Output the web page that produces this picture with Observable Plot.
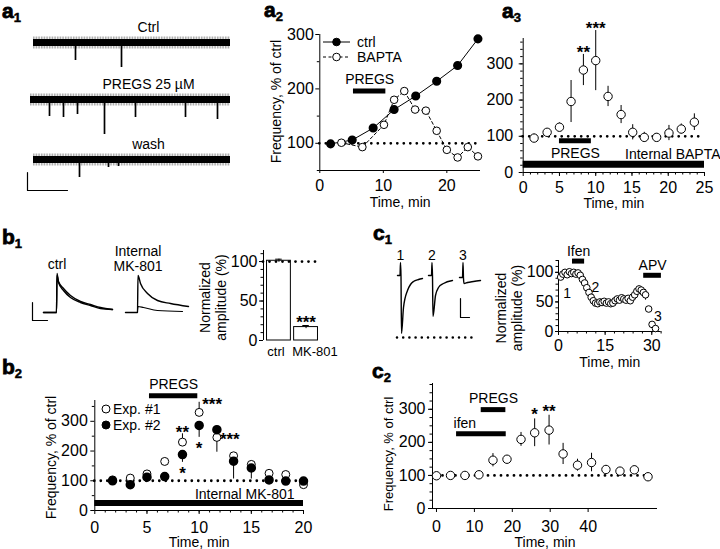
<!DOCTYPE html>
<html><head><meta charset="utf-8">
<script src="https://cdn.jsdelivr.net/npm/d3@7"></script>
<script src="https://cdn.jsdelivr.net/npm/@observablehq/plot@0.6"></script>
<style>
html,body{margin:0;padding:0;background:#fff;}
#fig{position:relative;width:720px;height:549px;overflow:hidden;background:#fff;font-family:"Liberation Sans",Arial,Helvetica,sans-serif;}
</style></head><body><div id="fig"></div>
<script>
// ================= DATA =================
// a1: example traces (spike times and amplitudes, arbitrary units)
const a1Labels = ["Ctrl", "PREGS 25 µM", "wash"];
const a1Start = [3, 0, 3];
const a1End = [200, 200, 200];
const a1SpikeTimes = [[45, 91], [19, 33, 47, 74, 105, 155, 187], [49, 78, 88]];
const a1SpikeAmps = [[-18, -25], [-17, -18, -15, -35, -18, -18, -20], [-18, -8, -7]];
const a1ScaleX = [-3, -3, 37];
const a1ScaleY = [-13, -31, -31];

// a2
const a2CtrlTime = [1.7, 5.1, 8.4, 11.7, 15.1, 18.4, 21.7, 24.9];
const a2CtrlFreq = [99, 106, 128, 162, 187, 214, 243, 292];
const a2BaptaTime = [3.4, 6.7, 10.1, 11.7, 13.3, 15.0, 16.7, 18.4, 20.0, 21.7, 23.3, 24.9];
const a2BaptaFreq = [101, 93, 134, 180, 196, 162, 160, 123, 88, 74, 93, 76];
const a2Bars = [{label: "PREGS", start: 5.3, end: 10.4, level: 196}];

// a3
const a3Time = [1.5, 3.3, 5.0, 6.6, 8.3, 10.0, 11.7, 13.5, 15.1, 16.7, 18.4, 20.1, 21.8, 23.6];
const a3Freq = [95, 111, 125, 196, 283, 309, 210, 160, 111, 97, 97, 109, 120, 139];
const a3Err = [11, 10, 12, 58, 43, 83, 28, 25, 21, 14, 10, 21, 14, 23];
const a3Stars = [{i: 4, label: "**"}, {i: 5, label: "***"}];
const a3Pregs = [{label: "PREGS", start: 5.0, end: 9.4, level: 88}];
const a3Internal = [{label: "Internal BAPTA", start: 0, end: 25, level: 23}];

// b1 traces
const b1CtrlT = [11, 24, 24.5, 26, 31, 38, 48, 58, 68, 80];
const b1CtrlA = [0, 0, 39, 30, 22, 15, 10, 7, 4, 3];
const b1CtrlB = [0, 0, 37, 31, 24, 17, 11, 8, 5, 3];
const b1MkT1 = [93, 105, 105.5, 108, 115, 125, 138, 156];
const b1MkA1 = [0, 0, 37, 29, 19, 12, 9, 6];
const b1MkT2 = [105, 105.5, 111, 125, 150];
const b1MkA2 = [0, 6, 5, 2, 1];
const b1ScaleX = [0, 0, 15];
const b1ScaleY = [10, -8, -8];
// b1 bars
const b1Groups = ["ctrl", "MK-801"];
const b1Amp = [101, 17];
const b1Err = [2, 2];

// b2
const b2Time = [1.7, 3.4, 5.0, 6.7, 8.4, 10.0, 11.7, 13.3, 15.0, 16.7, 18.3, 20.0];
const b2Exp1 = [103, 109, 123, 165, 230, 330, 246, 184, 155, 125, 121, 87];
const b2Exp2 = [100, 87, 112, 114, 188, 286, 272, 166, 143, 103, 99, 99];
const b2Exp1ErrEnd = [null, null, null, null, 258, 364, 196, null, null, null, null, null];
const b2Exp2ErrEnd = [null, null, null, null, 162, 246, null, 106, 106, null, null, null];
const b2Stars = [
  {t: 8.4, v: 258, label: "**", place: "above"},
  {t: 8.4, v: 162, label: "*", place: "below"},
  {t: 10.0, v: 364, label: "***", place: "right"},
  {t: 10.0, v: 246, label: "*", place: "below"},
  {t: 11.7, v: 246, label: "***", place: "right"}
];
const b2Pregs = [{label: "PREGS", start: 5.24, end: 9.87, level: 386}];
const b2Internal = [{label: "Internal MK-801", start: 0, end: 20, level: 25}];

// c1 traces
const c1T1 = [0, 2.5, 3, 3.5, 4, 6, 10, 13, 16, 21, 25];
const c1A1 = [0, 0, 13, -1, -58, -32, -15, -9, -6, -4, -3];
const c1T2 = [31, 34, 34.5, 35, 35.5, 38, 41, 46, 55];
const c1A2 = [0, 0, 13, -1, -41, -20, -12, -8, -5];
const c1T3 = [62, 65, 65.5, 66, 66.5, 70, 76, 83];
const c1A3 = [-2, -2, 13, -3, -8, -7, -6, -5];
const c1TraceLabels = [{label: "1", t: 3}, {label: "2", t: 34.5}, {label: "3", t: 65.5}];
const c1RefLevel = [{level: -62, start: 0, end: 76}];
const c1ScaleX = [63, 63, 72];
const c1ScaleY = [-23, -42, -42];
// c1 time course
const c1Time = [0.7, 1.4, 2.1, 2.8, 3.5, 4.2, 4.9, 5.6, 6.3, 7.0, 7.7, 8.4, 9.1, 9.8, 10.5, 11.2, 11.9, 12.6, 13.3, 14.0, 14.7, 15.4, 16.1, 16.8, 17.5, 18.2, 18.9, 19.6, 20.3, 21.0, 21.7, 22.4, 23.1, 23.8, 24.5, 25.2, 25.9, 26.6, 27.3, 28.0, 29.0, 30.1, 31.2];
const c1Amp = [92, 97, 100, 96, 101, 98, 100, 97, 99, 95, 88, 82, 74, 66, 58, 52, 48, 47, 50, 49, 51, 48, 50, 47, 48, 52, 55, 53, 57, 55, 53, 56, 52, 58, 62, 68, 72, 70, 66, 62, 38, 12, 5];
const c1ErrBars = [{t: 28.0, lo: 53, hi: 71}];
const c1Bars = [{label: "Ifen", start: 4.5, end: 8.4, level: 119}, {label: "APV", start: 27.4, end: 33.1, level: 95}];
const c1Points = [{label: "1", t: 2.8, v: 64}, {label: "2", t: 11.9, v: 75}, {label: "3", t: 32.0, v: 25}];

// c2
const c2Time = [0, 3.7, 7.5, 11.2, 14.9, 18.6, 22.3, 25.9, 29.7, 33.4, 37.2, 40.9, 44.7, 48.4, 52.2, 55.8];
const c2Freq = [99, 100, 100, 102, 146, 149, 209, 229, 237, 165, 131, 139, 118, 113, 117, 96];
const c2Err = [0, 0, 0, 0, 20, 0, 21, 42, 45, 32, 18, 28, 12, 10, 12, 0];
const c2Stars = [{i: 7, label: "*"}, {i: 8, label: "**"}];
const c2Pregs = [{label: "PREGS", start: 11.8, end: 18.3, level: 299}];
const c2Ifen = [{label: "ifen", start: 5.3, end: 18.4, level: 226}];

// ================= DRAWING =================
const FONT = '"Liberation Sans", Arial, Helvetica, sans-serif';
const W = 720, H = 549;
const fig = document.getElementById("fig");
function place(x0, x1, y0, y1) {
  return {width: W, height: H, marginLeft: x0, marginRight: W - x1, marginTop: y0, marginBottom: H - y1};
}
function draw(opts) {
  const el = Plot.plot({...opts, style: {position: "absolute", left: "0px", top: "0px", background: "transparent", overflow: "visible", fontFamily: FONT, maxWidth: "none"}});
  fig.appendChild(el);
}
const DOTTED = {stroke: "black", strokeWidth: 2.8, strokeDasharray: "0,6.5", strokeLinecap: "round"};
const pts = (xs, ys) => xs.map((x, i) => ({x, y: ys[i]}));
function yTitleMark(title, dx, dy, fs = 14) {
  return Plot.text([title], {text: d => d, frameAnchor: "left", textAnchor: "middle", lineAnchor: "middle", rotate: -90, dx, dy, fontSize: fs, lineHeight: 1.15});
}
function axes(o) {
  const fs = o.fs ?? 16;
  const m = [];
  m.push(Plot.axisX({ticks: o.xTicks, tickSize: o.xTickSize ?? 4, tickPadding: o.xPad ?? 5, fontSize: fs, label: null}));
  if (o.xMinor) m.push(Plot.axisX({ticks: o.xMinor, tickSize: 2.5, tickFormat: () => "", label: null}));
  m.push(Plot.axisY({ticks: o.yTicks, tickSize: o.yTickSize ?? 4, tickPadding: o.yPad ?? 2, fontSize: fs, label: null}));
  if (o.yMinor) m.push(Plot.axisY({ticks: o.yMinor, tickSize: 2.5, tickFormat: () => "", label: null}));
  if (o.xTitle) m.push(Plot.text([o.xTitle], {text: d => d, frameAnchor: "bottom", textAnchor: "middle", lineAnchor: "middle", dy: o.xTitleDy, fontSize: 14}));
  if (o.yTitle) m.push(yTitleMark(o.yTitle, o.yTitleDx, o.yTitleDy ?? 0, o.yTitleFs ?? 14));
  return m;
}
const range = (a, b, s) => d3.range(a, b + 1e-9, s);
const STAR = {fontSize: 17, fontWeight: "bold", lineAnchor: "middle"};

// ---- a1 traces
const a1Baselines = [42, 99, 159];
a1Labels.forEach((lab, i) => {
  const b = a1Baselines[i];
  const spikes = a1SpikeTimes[i].map((t, j) => ({t, a: a1SpikeAmps[i][j]}));
  const seg = [{s: a1Start[i], e: a1End[i]}];
  const marks = [
    Plot.ruleY(seg, {y: 0, x1: "s", x2: "e", strokeWidth: 12, strokeOpacity: 0.45, strokeDasharray: "0.7,0.9"}),
    Plot.ruleY(seg, {y: 0, x1: "s", x2: "e", strokeWidth: 7}),
    Plot.ruleX(spikes, {x: "t", y1: 0, y2: "a", strokeWidth: 1.7}),
    Plot.text([lab], {text: d => d, frameAnchor: "top", textAnchor: "middle", lineAnchor: "middle", dx: 18, dy: -5, fontSize: 14})
  ];
  if (i === 2) marks.push(Plot.line(pts(a1ScaleX, a1ScaleY), {x: "x", y: "y", strokeWidth: 1.2}));
  draw({...place(30, 230, b - 10, b + 40), x: {domain: [0, 200], axis: null}, y: {domain: [-40, 10], axis: null}, marks});
});

// ---- a2
draw({
  ...place(319.3, 480, 34, 170),
  x: {domain: [0, 25.3]}, y: {domain: [50, 300]},
  marks: [
    ...axes({xTicks: [0, 10, 20], yTicks: [100, 200, 300], yMinor: [50, 150, 250], xTickSize: 3, xPad: 6, yPad: 2,
      xTitle: "Time, min", xTitleDy: 32, yTitle: "Frequency, % of ctrl", yTitleDx: -44, yTitleDy: -1, yTitleFs: 14}),
    Plot.ruleX([0]), Plot.ruleY([50]),
    Plot.ruleY([100], {...DOTTED}),
    Plot.ruleY(a2Bars, {y: "level", x1: "start", x2: "end", strokeWidth: 5}),
    Plot.text(a2Bars, {x: d => (d.start + d.end) / 2, y: "level", text: "label", dy: -12, fontSize: 14}),
    Plot.line(pts(a2CtrlTime, a2CtrlFreq), {x: "x", y: "y", strokeWidth: 1}),
    Plot.line(pts(a2BaptaTime, a2BaptaFreq), {x: "x", y: "y", strokeWidth: 1, strokeDasharray: "3,2.5"}),
    Plot.dot(pts(a2BaptaTime, a2BaptaFreq), {x: "x", y: "y", r: 3.8, fill: "white", stroke: "black", strokeWidth: 1}),
    Plot.dot(pts(a2CtrlTime, a2CtrlFreq), {x: "x", y: "y", r: 3.8, fill: "black", stroke: "black"})
  ]
});

// ---- a3
const a3Data = a3Time.map((t, i) => ({t, v: a3Freq[i], lo: a3Freq[i] - a3Err[i], hi: a3Freq[i] + a3Err[i]}));
draw({
  ...place(522.7, 704, 38, 172),
  x: {domain: [0, 25]}, y: {domain: [0, 370]},
  marks: [
    ...axes({xTicks: [0, 5, 10, 15, 20, 25], xMinor: range(1, 24, 1), yTicks: [0, 100, 200, 300], yMinor: range(20, 360, 20), xPad: 5, yPad: 6,
      xTitle: "Time, min", xTitleDy: 31}),
    Plot.ruleX([0]), Plot.ruleY([0]),
    Plot.ruleY([{s: 0, e: 24.5}], {y: 100, x1: "s", x2: "e", ...DOTTED}),
    Plot.ruleY(a3Internal, {y: "level", x1: "start", x2: "end", strokeWidth: 7}),
    Plot.text(a3Internal, {x: "end", y: "level", text: "label", textAnchor: "end", dx: 16, dy: -10, fontSize: 14}),
    Plot.ruleY(a3Pregs, {y: "level", x1: "start", x2: "end", strokeWidth: 5}),
    Plot.text(a3Pregs, {x: d => (d.start + d.end) / 2, y: "level", text: "label", dy: 13, fontSize: 14}),
    Plot.ruleX(a3Data, {x: "t", y1: "lo", y2: "hi", strokeWidth: 1}),
    Plot.dot(a3Data, {x: "t", y: "v", r: 4.2, fill: "white", stroke: "black", strokeWidth: 1}),
    Plot.text(a3Stars, {x: d => a3Time[d.i], y: d => a3Freq[d.i] + a3Err[d.i], text: "label", dy: -2, ...STAR})
  ]
});

// ---- b1 traces
const b1PeakC = d3.maxIndex(b1CtrlA), b1PeakM = d3.maxIndex(b1MkA1);
draw({
  ...place(32, 192, 262, 322),
  x: {domain: [0, 160], axis: null}, y: {domain: [-10, 50], axis: null},
  marks: [
    Plot.line(pts(b1CtrlT, b1CtrlA), {x: "x", y: "y", curve: "monotone-x", strokeWidth: 1.4}),
    Plot.line(pts(b1CtrlT, b1CtrlB), {x: "x", y: "y", curve: "monotone-x", strokeWidth: 1.4}),
    Plot.line(pts(b1MkT1, b1MkA1), {x: "x", y: "y", curve: "monotone-x", strokeWidth: 1.4}),
    Plot.line(pts(b1MkT2, b1MkA2), {x: "x", y: "y", curve: "monotone-x", strokeWidth: 1.2}),
    Plot.line(pts(b1ScaleX, b1ScaleY), {x: "x", y: "y", strokeWidth: 1.2}),
    Plot.text([{label: "ctrl", t: b1CtrlT[b1PeakC], a: b1CtrlA[b1PeakC]}, {label: "Internal\nMK-801", t: b1MkT1[b1PeakM], a: b1MkA1[b1PeakM]}],
      {x: "t", y: "a", text: "label", lineAnchor: "bottom", dy: -5, fontSize: 14, lineHeight: 1.05})
  ]
});

// ---- b1 bars
const b1Data = b1Groups.map((g, i) => ({i, g, amp: b1Amp[i], err: b1Err[i]}));
draw({
  ...place(263, 321, 250, 340),
  x: {domain: [-0.57, 1.57], axis: null}, y: {domain: [0, 114]},
  marks: [
    Plot.rectY(b1Data, {x1: d => d.i - 0.44, x2: d => d.i + 0.44, y1: 0, y2: "amp", fill: "white", stroke: "black", strokeWidth: 1}),
    Plot.ruleX(b1Data, {x: "i", y1: d => d.amp - d.err, y2: d => d.amp + d.err}),
    Plot.ruleY(b1Data, {y: d => d.amp + d.err, x1: d => d.i - 0.12, x2: d => d.i + 0.12}),
    Plot.ruleX([-0.57]),
    Plot.ruleY([100], {...DOTTED}),
    Plot.text(b1Data.filter(d => d.i === 0), {x: "i", y: 0, text: "g", lineAnchor: "top", dy: 6, dx: -3, fontSize: 13}),
    Plot.text(b1Data.filter(d => d.i === 1), {x: "i", y: 0, text: "g", lineAnchor: "top", dy: 6, dx: 9, fontSize: 13}),
    Plot.axisY({ticks: [0, 50, 100], tickSize: 4, tickPadding: 2, fontSize: 16, label: null}),
    Plot.axisY({ticks: range(10, 110, 10), tickSize: 2.5, tickFormat: () => "", label: null}),
    yTitleMark("Normalized\namplitude (%)", -51, 2, 14),
    Plot.text(b1Data.filter(d => d.g === "MK-801"), {x: "i", y: d => d.amp + d.err, text: () => "***", dy: -3, ...STAR})
  ]
});

// ---- b2
const b2A = b2Time.map((t, i) => ({t, v: b2Exp1[i], e: b2Exp1ErrEnd[i]}));
const b2B = b2Time.map((t, i) => ({t, v: b2Exp2[i], e: b2Exp2ErrEnd[i]}));
draw({
  ...place(94.3, 303, 400, 510),
  x: {domain: [0, 20]}, y: {domain: [0, 370]},
  marks: [
    ...axes({xTicks: [0, 5, 10, 15, 20], xMinor: range(1, 19, 1), yTicks: [0, 100, 200, 300], yMinor: [50, 150, 250, 350], xPad: 7, yPad: 3,
      xTitle: "Time, min", xTitleDy: 32, yTitle: "Frequency, % of ctrl", yTitleDx: -44, yTitleDy: 2}),
    Plot.ruleX([0]), Plot.ruleY([0]),
    Plot.ruleY([{s: 0, e: 20.3}], {y: 100, x1: "s", x2: "e", ...DOTTED}),
    Plot.ruleY(b2Internal, {y: "level", x1: "start", x2: "end", strokeWidth: 6}),
    Plot.text(b2Internal, {x: "end", y: "level", text: "label", textAnchor: "end", dx: -9, dy: -9, fontSize: 14}),
    Plot.ruleY(b2Pregs, {y: "level", x1: "start", x2: "end", strokeWidth: 5}),
    Plot.text(b2Pregs, {x: d => (d.start + d.end) / 2, y: "level", text: "label", dy: -11, fontSize: 14}),
    Plot.ruleX(b2A.filter(d => d.e != null), {x: "t", y1: "v", y2: "e", strokeWidth: 1}),
    Plot.ruleX(b2B.filter(d => d.e != null), {x: "t", y1: "v", y2: "e", strokeWidth: 1}),
    Plot.dot(b2A, {x: "t", y: "v", r: 4, fill: "white", stroke: "black", strokeWidth: 1}),
    Plot.dot(b2B, {x: "t", y: "v", r: 4, fill: "black", stroke: "black"}),
    Plot.text(b2Stars.filter(d => d.place === "above"), {x: "t", y: "v", text: "label", dy: -1, ...STAR}),
    Plot.text(b2Stars.filter(d => d.place === "below"), {x: "t", y: "v", text: "label", dy: 11, ...STAR}),
    Plot.text(b2Stars.filter(d => d.place === "right"), {x: "t", y: "v", text: "label", textAnchor: "start", dx: 3, dy: 2, ...STAR})
  ]
});

// ---- c1 traces
draw({
  ...place(397, 477, 250, 340),
  x: {domain: [0, 80], axis: null}, y: {domain: [-65, 25], axis: null},
  marks: [
    Plot.ruleY(c1RefLevel, {y: "level", x1: "start", x2: "end", ...DOTTED, strokeWidth: 2.6, strokeDasharray: "0,6.2"}),
    Plot.line(pts(c1T1, c1A1), {x: "x", y: "y", curve: "monotone-x", strokeWidth: 1.4}),
    Plot.line(pts(c1T2, c1A2), {x: "x", y: "y", curve: "monotone-x", strokeWidth: 1.4}),
    Plot.line(pts(c1T3, c1A3), {x: "x", y: "y", curve: "monotone-x", strokeWidth: 1.4}),
    Plot.line(pts(c1ScaleX, c1ScaleY), {x: "x", y: "y", strokeWidth: 1.2}),
    Plot.text(c1TraceLabels, {x: "t", y: d3.max(c1A1), text: "label", lineAnchor: "bottom", dy: -3, fontSize: 14})
  ]
});

// ---- c1 time course
const c1Data = c1Time.map((t, i) => ({t, v: c1Amp[i]}));
draw({
  ...place(558, 660.6, 260, 331),
  x: {domain: [0, 33]}, y: {domain: [0, 120]},
  marks: [
    ...axes({xTicks: [0, 15, 30], xMinor: range(3, 33, 3), yTicks: [0, 50, 100], yMinor: range(10, 120, 10), xPad: 4, yTickSize: 3, yPad: 2,
      xTitle: "Time, min", xTitleDy: 31, yTitle: "Normalized\namplitude (%)", yTitleDx: -50, yTitleDy: 12}),
    Plot.ruleX([0]), Plot.ruleY([0]),
    Plot.ruleY(c1Bars, {y: "level", x1: "start", x2: "end", strokeWidth: 5}),
    Plot.text(c1Bars, {x: d => (d.start + d.end) / 2, y: "level", text: "label", dy: -10, fontSize: 14}),
    Plot.ruleX(c1ErrBars, {x: "t", y1: "lo", y2: "hi", strokeWidth: 1}),
    Plot.dot(c1Data, {x: "t", y: "v", r: 3.3, fill: "white", stroke: "black", strokeWidth: 1}),
    Plot.text(c1Points, {x: "t", y: "v", text: "label", fontSize: 14})
  ]
});

// ---- c2
const c2Data = c2Time.map((t, i) => ({t, v: c2Freq[i], lo: c2Freq[i] - c2Err[i], hi: c2Freq[i] + c2Err[i]}));
draw({
  ...place(432, 657, 383, 508),
  x: {domain: [-1.05, 58.3]}, y: {domain: [0, 378]},
  marks: [
    ...axes({xTicks: [0, 10, 20, 30, 40], yTicks: [0, 100, 200, 300], yMinor: range(25, 375, 25), xPad: 8, yPad: 3,
      xTitle: "Time, min", xTitleDy: 34, yTitle: "Frequency, % of ctrl", yTitleDx: -44, yTitleDy: 8, yTitleFs: 13}),
    Plot.ruleX([-1.05]), Plot.ruleY([0]),
    Plot.ruleY([{s: 0, e: 56.5}], {y: 100, x1: "s", x2: "e", ...DOTTED}),
    Plot.ruleY(c2Pregs, {y: "level", x1: "start", x2: "end", strokeWidth: 5}),
    Plot.text(c2Pregs, {x: d => (d.start + d.end) / 2, y: "level", text: "label", dy: -11, fontSize: 14}),
    Plot.ruleY(c2Ifen, {y: "level", x1: "start", x2: "end", strokeWidth: 5}),
    Plot.text(c2Ifen, {x: "start", y: "level", text: "label", textAnchor: "start", dx: -3, dy: -10, fontSize: 14}),
    Plot.ruleX(c2Data.filter(d => d.hi > d.lo), {x: "t", y1: "lo", y2: "hi", strokeWidth: 1}),
    Plot.dot(c2Data, {x: "t", y: "v", r: 4.2, fill: "white", stroke: "black", strokeWidth: 1}),
    Plot.text(c2Stars, {x: d => c2Time[d.i], y: d => c2Freq[d.i] + c2Err[d.i], text: "label", dy: -4, ...STAR})
  ]
});

// ---- overlay: panel labels and legends
const over = d3.select(fig).append("svg").attr("width", W).attr("height", H)
  .style("position", "absolute").style("left", "0px").style("top", "0px").style("font-family", FONT);
const panelLabels = [["a", "1", 2, 18], ["a", "2", 264, 17], ["a", "3", 502, 18], ["b", "1", 2, 244], ["b", "2", 2, 374], ["c", "1", 373, 240], ["c", "2", 372, 378]];
panelLabels.forEach(([l, s, x, y]) => {
  const t = over.append("text").attr("x", x).attr("y", y).attr("font-size", 21).attr("font-weight", "bold")
    .attr("stroke", "black").attr("stroke-width", 0.8);
  t.append("tspan").text(l);
  t.append("tspan").attr("dy", 4).attr("font-size", 13).attr("stroke-width", 0.5).text(s);
});
// a2 legend
const a2Legend = [{label: "ctrl", filled: true, dash: null}, {label: "BAPTA", filled: false, dash: "3,2.5"}];
a2Legend.forEach((d, i) => {
  const y = 42 + i * 15;
  over.append("line").attr("x1", 323).attr("x2", 350).attr("y1", y).attr("y2", y).attr("stroke", "black").attr("stroke-dasharray", d.dash);
  over.append("circle").attr("cx", 336.5).attr("cy", y).attr("r", 3.8).attr("fill", d.filled ? "black" : "white").attr("stroke", "black");
  over.append("text").attr("x", 357).attr("y", y + 5).attr("font-size", 14).text(d.label);
});
// b2 legend
const b2Legend = [{label: "Exp. #1", filled: false}, {label: "Exp. #2", filled: true}];
b2Legend.forEach((d, i) => {
  const y = 409 + i * 16;
  over.append("circle").attr("cx", 106).attr("cy", y).attr("r", 4).attr("fill", d.filled ? "black" : "white").attr("stroke", "black");
  over.append("text").attr("x", 113).attr("y", y + 5).attr("font-size", 14).text(d.label);
});
</script></body></html>
